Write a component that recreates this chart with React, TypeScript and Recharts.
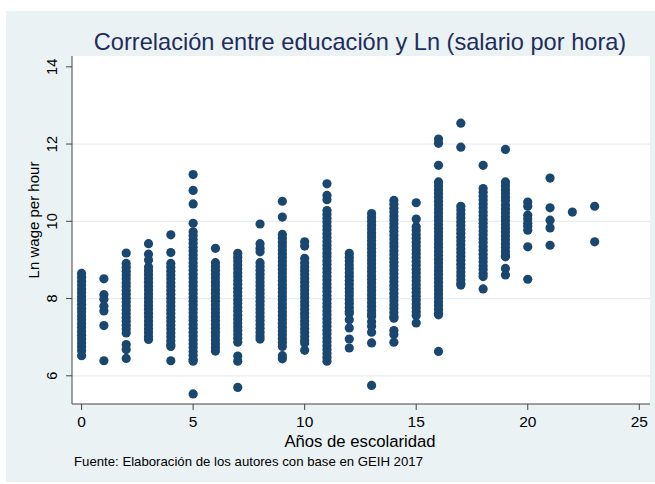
import React from 'react';
import { ScatterChart, Scatter, XAxis, YAxis, ReferenceLine, CartesianGrid } from 'recharts';

const edu0 = [8.65, 8.55, 8.45, 8.35, 8.25, 8.15, 8.05, 7.95, 7.85, 7.75, 7.65, 7.55, 7.45, 7.35, 7.25, 7.15, 7.05, 6.95, 6.85, 6.75, 6.65, 6.52];
const edu1 = [8.51, 8.1, 7.98, 7.8, 7.68, 7.3, 6.39];
const edu2 = [9.18, 8.91, 8.81, 8.71, 8.61, 8.51, 8.41, 8.31, 8.21, 8.11, 8.01, 7.91, 7.81, 7.71, 7.61, 7.51, 7.41, 7.31, 7.21, 7.11, 6.81, 6.68, 6.45];
const edu3 = [9.42, 9.15, 9.0, 8.82, 8.72, 8.62, 8.52, 8.42, 8.32, 8.22, 8.12, 8.02, 7.92, 7.82, 7.72, 7.62, 7.52, 7.42, 7.32, 7.22, 7.12, 7.02, 6.94];
const edu4 = [9.65, 9.19, 8.91, 8.81, 8.71, 8.61, 8.51, 8.41, 8.31, 8.21, 8.11, 8.01, 7.91, 7.81, 7.71, 7.61, 7.51, 7.41, 7.31, 7.21, 7.11, 7.01, 6.91, 6.81, 6.76, 6.39];
const edu5 = [11.21, 10.8, 10.45, 9.95, 9.73, 9.63, 9.53, 9.43, 9.33, 9.23, 9.13, 9.03, 8.93, 8.83, 8.73, 8.63, 8.53, 8.43, 8.33, 8.23, 8.13, 8.03, 7.93, 7.83, 7.73, 7.63, 7.53, 7.43, 7.33, 7.23, 7.13, 7.03, 6.93, 6.83, 6.73, 6.63, 6.53, 6.43, 6.38, 5.53];
const edu6 = [9.3, 8.93, 8.83, 8.73, 8.63, 8.53, 8.43, 8.33, 8.23, 8.13, 8.03, 7.93, 7.83, 7.73, 7.63, 7.53, 7.43, 7.33, 7.23, 7.13, 7.03, 6.93, 6.83, 6.73, 6.64];
const edu7 = [9.17, 9.07, 8.97, 8.87, 8.77, 8.67, 8.57, 8.47, 8.37, 8.27, 8.17, 8.07, 7.97, 7.87, 7.77, 7.67, 7.57, 7.47, 7.37, 7.27, 7.17, 7.07, 6.97, 6.87, 6.51, 6.38, 5.7];
const edu8 = [9.93, 9.42, 9.3, 9.21, 8.93, 8.83, 8.73, 8.63, 8.53, 8.43, 8.33, 8.23, 8.13, 8.03, 7.93, 7.83, 7.73, 7.63, 7.53, 7.43, 7.33, 7.23, 7.13, 7.03, 6.95];
const edu9 = [10.52, 10.11, 9.66, 9.56, 9.46, 9.36, 9.26, 9.16, 9.06, 8.96, 8.86, 8.76, 8.66, 8.56, 8.46, 8.36, 8.26, 8.16, 8.06, 7.96, 7.86, 7.76, 7.66, 7.56, 7.46, 7.36, 7.26, 7.16, 7.06, 6.96, 6.86, 6.76, 6.52, 6.44];
const edu10 = [9.47, 9.36, 9.04, 8.92, 8.82, 8.72, 8.62, 8.52, 8.42, 8.32, 8.22, 8.12, 8.02, 7.92, 7.82, 7.72, 7.62, 7.52, 7.42, 7.32, 7.22, 7.12, 7.02, 6.92, 6.85, 6.66];
const edu11 = [10.97, 10.67, 10.56, 10.28, 10.18, 10.08, 9.98, 9.88, 9.78, 9.68, 9.58, 9.48, 9.38, 9.28, 9.18, 9.08, 8.98, 8.88, 8.78, 8.68, 8.58, 8.48, 8.38, 8.28, 8.18, 8.08, 7.98, 7.88, 7.78, 7.68, 7.58, 7.48, 7.38, 7.28, 7.18, 7.08, 6.98, 6.88, 6.78, 6.68, 6.58, 6.48, 6.38];
const edu12 = [9.17, 9.07, 8.97, 8.87, 8.77, 8.67, 8.57, 8.47, 8.37, 8.27, 8.17, 8.07, 7.97, 7.87, 7.77, 7.67, 7.62, 7.45, 7.24, 6.95, 6.72];
const edu13 = [10.2, 10.1, 10.0, 9.9, 9.8, 9.7, 9.6, 9.5, 9.4, 9.3, 9.2, 9.1, 9.0, 8.9, 8.8, 8.7, 8.6, 8.5, 8.4, 8.3, 8.2, 8.1, 8.0, 7.9, 7.8, 7.7, 7.6, 7.54, 7.4, 7.28, 7.13, 6.85, 5.75];
const edu14 = [10.54, 10.44, 10.34, 10.24, 10.14, 10.04, 9.94, 9.84, 9.74, 9.64, 9.54, 9.44, 9.34, 9.24, 9.14, 9.04, 8.94, 8.84, 8.74, 8.64, 8.54, 8.44, 8.34, 8.24, 8.14, 8.04, 7.94, 7.84, 7.74, 7.64, 7.54, 7.49, 7.17, 7.07, 6.87];
const edu15 = [10.48, 10.06, 9.86, 9.76, 9.66, 9.56, 9.46, 9.36, 9.26, 9.16, 9.06, 8.96, 8.86, 8.76, 8.66, 8.56, 8.46, 8.36, 8.26, 8.16, 8.06, 7.96, 7.86, 7.76, 7.66, 7.56, 7.37];
const edu16 = [12.13, 12.02, 11.45, 11.02, 10.92, 10.82, 10.72, 10.62, 10.52, 10.42, 10.32, 10.22, 10.12, 10.02, 9.92, 9.82, 9.72, 9.62, 9.52, 9.42, 9.32, 9.22, 9.12, 9.02, 8.92, 8.82, 8.72, 8.62, 8.52, 8.42, 8.32, 8.22, 8.12, 8.02, 7.92, 7.82, 7.72, 7.62, 7.58, 6.63];
const edu17 = [12.54, 11.92, 10.39, 10.29, 10.19, 10.09, 9.99, 9.89, 9.79, 9.69, 9.59, 9.49, 9.39, 9.29, 9.19, 9.09, 8.99, 8.89, 8.79, 8.69, 8.59, 8.49, 8.39, 8.35];
const edu18 = [11.45, 10.85, 10.75, 10.65, 10.55, 10.45, 10.35, 10.25, 10.15, 10.05, 9.95, 9.85, 9.75, 9.65, 9.55, 9.45, 9.35, 9.25, 9.15, 9.05, 8.95, 8.85, 8.75, 8.65, 8.57, 8.25];
const edu19 = [11.86, 11.02, 10.92, 10.82, 10.72, 10.62, 10.54, 10.42, 10.32, 10.22, 10.12, 10.02, 9.92, 9.82, 9.72, 9.62, 9.52, 9.42, 9.32, 9.22, 9.12, 9.08, 8.78, 8.61];
const edu20 = [10.5, 10.39, 10.16, 10.06, 9.95, 9.87, 9.77, 9.34, 8.5];
const edu21 = [11.12, 10.35, 10.03, 9.83, 9.38];
const edu22 = [10.24];
const edu23 = [10.39, 9.47];

const columns: [number, number[]][] = [
  [0, edu0], [1, edu1], [2, edu2], [3, edu3], [4, edu4], [5, edu5], [6, edu6], [7, edu7],
  [8, edu8], [9, edu9], [10, edu10], [11, edu11], [12, edu12], [13, edu13], [14, edu14],
  [15, edu15], [16, edu16], [17, edu17], [18, edu18], [19, edu19], [20, edu20], [21, edu21],
  [22, edu22], [23, edu23],
];

const xTicks = [0, 5, 10, 15, 20, 25];
const yTicks = [6, 8, 10, 12, 14];
const gridValues = [6, 8, 10, 12];

const title = 'Correlación entre educación y Ln (salario por hora)';
const xTitle = 'Años de escolaridad';
const yTitle = 'Ln wage per hour';
const note = 'Fuente: Elaboración de los autores con base en GEIH 2017';

const points = columns.flatMap(([x, vals]) => vals.map((y) => ({ x, y })));

const FONT = '"Liberation Sans", Arial, Helvetica, sans-serif';
const NAVY = '#1a476f';
const AXIS = '#444';

const Dot = (props: any) => <circle cx={props.cx} cy={props.cy} r={4.6} fill={NAVY} />;

const XTick = (props: any) => {
  const { x, y, payload } = props;
  return (
    <text x={x} y={y + 15} textAnchor="middle" fontSize={15.5} fontFamily={FONT} fill="#000">
      {payload.value}
    </text>
  );
};

const YTick = (props: any) => {
  const { x, y, payload } = props;
  const bx = x - 7;
  return (
    <text x={bx} y={y} transform={`rotate(-90 ${bx} ${y})`} textAnchor="middle" fontSize={14.5} fontFamily={FONT} fill="#000">
      {payload.value}
    </text>
  );
};

export default function App() {
  return (
    <div style={{ position: 'absolute', left: 0, top: 0, width: 655, height: 484, background: '#fff' }}>
      <div style={{ position: 'absolute', left: 6, top: 11, width: 649, height: 471, background: '#eaf2f3' }} />
      <div style={{ position: 'absolute', left: 0, top: 0 }}>
        <ScatterChart width={655} height={484} margin={{ top: 56, right: 5, bottom: 50, left: 0 }}>
          <CartesianGrid horizontal={false} vertical={false} fill="#ffffff" stroke="none" />
          <XAxis
            type="number"
            dataKey="x"
            domain={[-0.43, 25.48]}
            ticks={xTicks}
            allowDataOverflow
            height={30}
            tickSize={6}
            axisLine={{ stroke: AXIS, strokeWidth: 1 }}
            tickLine={{ stroke: AXIS, strokeWidth: 1 }}
            tick={<XTick />}
            interval={0}
          />
          <YAxis
            type="number"
            dataKey="y"
            domain={[5.27, 14.28]}
            ticks={yTicks}
            allowDataOverflow
            width={72}
            tickSize={6}
            axisLine={{ stroke: AXIS, strokeWidth: 1 }}
            tickLine={{ stroke: AXIS, strokeWidth: 1 }}
            tick={<YTick />}
            interval={0}
          />
          {gridValues.map((v) => (
            <ReferenceLine key={v} y={v} stroke="#e6eef0" strokeWidth={1.2} ifOverflow="visible" />
          ))}
          <Scatter data={points} shape={<Dot />} isAnimationActive={false} />
        </ScatterChart>
      </div>
      <svg width={655} height={484} style={{ position: 'absolute', left: 0, top: 0, pointerEvents: 'none' }}>
        <text x={360} y={50} textAnchor="middle" fontSize={23.6} fontFamily={FONT} fill="#1f2d5c">{title}</text>
        <text x={38.5} y={220} transform="rotate(-90 38.5 220)" textAnchor="middle" fontSize={15} fontFamily={FONT} fill="#000">{yTitle}</text>
        <text x={360} y={447} textAnchor="middle" fontSize={16.7} fontFamily={FONT} fill="#000">{xTitle}</text>
        <text x={74} y={466} fontSize={13.2} fontFamily={FONT} fill="#000">{note}</text>
      </svg>
    </div>
  );
}
